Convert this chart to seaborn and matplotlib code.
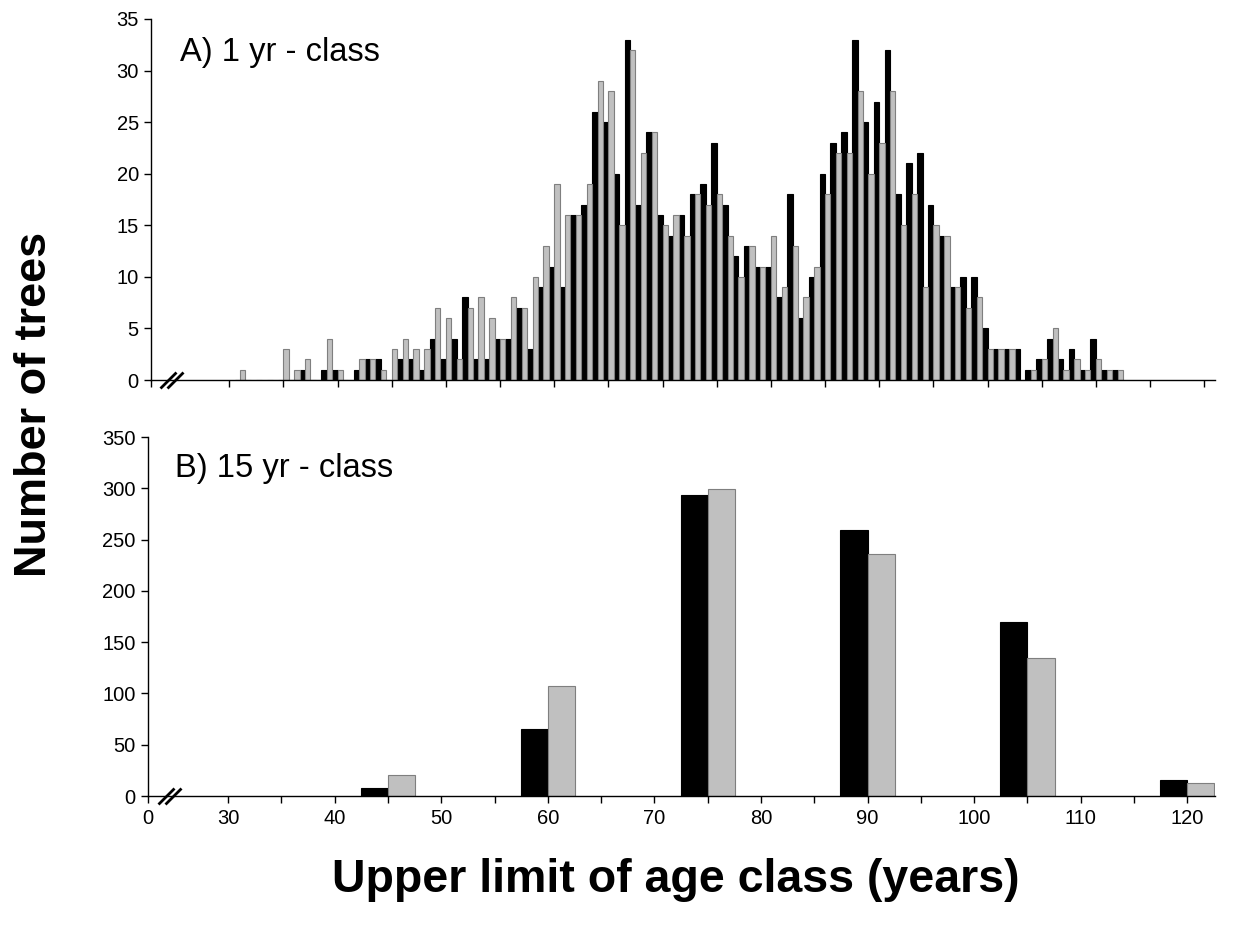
import numpy as np
import pandas as pd
import matplotlib
matplotlib.use("Agg")
import matplotlib.pyplot as plt
from matplotlib.lines import Line2D
import seaborn as sns

# ---------------- data ----------------
years_1yr = list(range(31, 113))
black_1yr = [0, 0, 0, 0, 0, 0, 1, 0, 1, 1, 0, 1, 2, 2, 0, 2, 2, 1, 4, 2,
             4, 8, 2, 2, 4, 4, 7, 3, 9, 11, 9, 16, 17, 26, 25, 20, 33, 17, 24, 16,
             14, 16, 18, 19, 23, 17, 12, 13, 11, 11, 8, 18, 6, 10, 20, 23, 24, 33, 25, 27,
             32, 18, 21, 22, 17, 14, 9, 10, 10, 5, 3, 3, 3, 1, 2, 4, 2, 3, 1, 4,
             1, 1]
grey_1yr = [1, 0, 0, 0, 3, 1, 2, 0, 4, 1, 0, 2, 2, 1, 3, 4, 3, 3, 7, 6,
            2, 7, 8, 6, 4, 8, 7, 10, 13, 19, 16, 16, 19, 29, 28, 15, 32, 22, 24, 15,
            16, 14, 18, 17, 18, 14, 10, 13, 11, 14, 9, 13, 8, 11, 18, 22, 22, 28, 20, 23,
            28, 15, 18, 9, 15, 14, 9, 7, 8, 3, 3, 3, 0, 1, 2, 5, 1, 2, 1, 2,
            1, 1]

years_15yr = [45, 60, 75, 90, 105, 120]
black_15yr = [8, 65, 293, 259, 170, 16]
grey_15yr = [20, 107, 299, 236, 135, 13]

series_names = ["black", "grey"]
xtick_labels = ["0", "30", "40", "50", "60", "70", "80", "90", "100", "110", "120"]

# ---------------- style ----------------
sns.set_style("ticks")
plt.rcParams["font.family"] = ["Liberation Sans", "DejaVu Sans"]
plt.rcParams["axes.linewidth"] = 1.0
plt.rcParams["text.color"] = "black"
plt.rcParams["xtick.color"] = "black"
plt.rcParams["ytick.color"] = "black"

W, H = 1249, 930
fig = plt.figure(figsize=(W / 100, H / 100), dpi=100)


def fx(px):
    return px / W


def fy(py):
    return 1 - py / H


axA = fig.add_axes([fx(151.3), fy(380), fx(1215) - fx(151.3), fy(19) - fy(380)])
axB = fig.add_axes([fx(148), fy(796), fx(1215) - fx(148), fy(437) - fy(796)])

pal = {"black": "#000000", "grey": "#C0C0C0"}
edges = {"black": "#000000", "grey": "#7F7F7F"}

dfA = pd.DataFrame({
    "year": years_1yr * 2,
    "n": black_1yr + grey_1yr,
    "grp": ["black"] * len(years_1yr) + ["grey"] * len(years_1yr),
})
dfB = pd.DataFrame({
    "year": years_15yr * 2,
    "n": black_15yr + grey_15yr,
    "grp": ["black"] * len(years_15yr) + ["grey"] * len(years_15yr),
})

sns.barplot(data=dfA, x="year", y="n", hue="grp", hue_order=series_names,
            palette=pal, native_scale=True, dodge=True, width=1.0,
            errorbar=None, legend=False, ax=axA, saturation=1)
sns.barplot(data=dfB, x="year", y="n", hue="grp", hue_order=series_names,
            palette=pal, native_scale=True, dodge=True, width=0.34,
            errorbar=None, legend=False, ax=axB, saturation=1)

for ax in (axA, axB):
    for cont, name in zip(ax.containers, series_names):
        for p in cont:
            p.set_edgecolor(edges[name])
            p.set_linewidth(0.8)

# ---- panel A axes ----
axA.set_xlim(22.81, 121.0)
axA.set_ylim(0, 35)
axA.set_xticks([22.81] + list(range(30, 121, 5)))
axA.set_xticklabels([])
axA.set_yticks(range(0, 36, 5))
axA.set_yticklabels([str(v) for v in range(0, 36, 5)])

# ---- panel B axes ----
axB.set_xlim(22.48, 122.6)
axB.set_ylim(0, 350)
b_ticks = [22.48] + list(range(30, 121, 5))
axB.set_xticks(b_ticks)
b_labels = []
k = 1
for t in b_ticks:
    if t == 22.48:
        b_labels.append(xtick_labels[0])
    elif t % 10 == 0:
        b_labels.append(xtick_labels[k]); k += 1
    else:
        b_labels.append("")
axB.set_xticklabels(b_labels)
axB.set_yticks(range(0, 351, 50))
axB.set_yticklabels([str(v) for v in range(0, 351, 50)])

for ax in (axA, axB):
    ax.set_xlabel("")
    ax.set_ylabel("")
    sns.despine(ax=ax)
    for s in ("left", "bottom"):
        ax.spines[s].set_color("black")
        ax.spines[s].set_linewidth(1.0)
    ax.tick_params(axis="both", direction="out", length=5, width=1.0,
                   color="black", labelsize=14.5, labelcolor="black", pad=4)
    ax.set_facecolor("white")

# axis break marks (//)
for (cx, cy) in [(172, 380.5), (170, 796.5)]:
    for off in (-3.5, 3.5):
        fig.add_artist(Line2D([fx(cx + off - 8), fx(cx + off + 8)],
                              [fy(cy + 8), fy(cy - 8)],
                              color="black", lw=2.0, solid_capstyle="butt"))

# panel titles
fig.text(fx(180), fy(61.5), "A) 1 yr - class", fontsize=23.5, ha="left",
         va="baseline", color="black")
fig.text(fx(175), fy(477), "B) 15 yr - class", fontsize=23.5, ha="left",
         va="baseline", color="black")

# axis titles
fig.text(fx(35), fy(404), "Number of trees", fontsize=32.5, fontweight="bold",
         rotation=90, ha="center", va="center", color="black")
fig.text(fx(676), fy(880), "Upper limit of age class (years)", fontsize=33.5,
         fontweight="bold", ha="center", va="center", color="black")

fig.savefig("out.png", dpi=100, facecolor="white")
